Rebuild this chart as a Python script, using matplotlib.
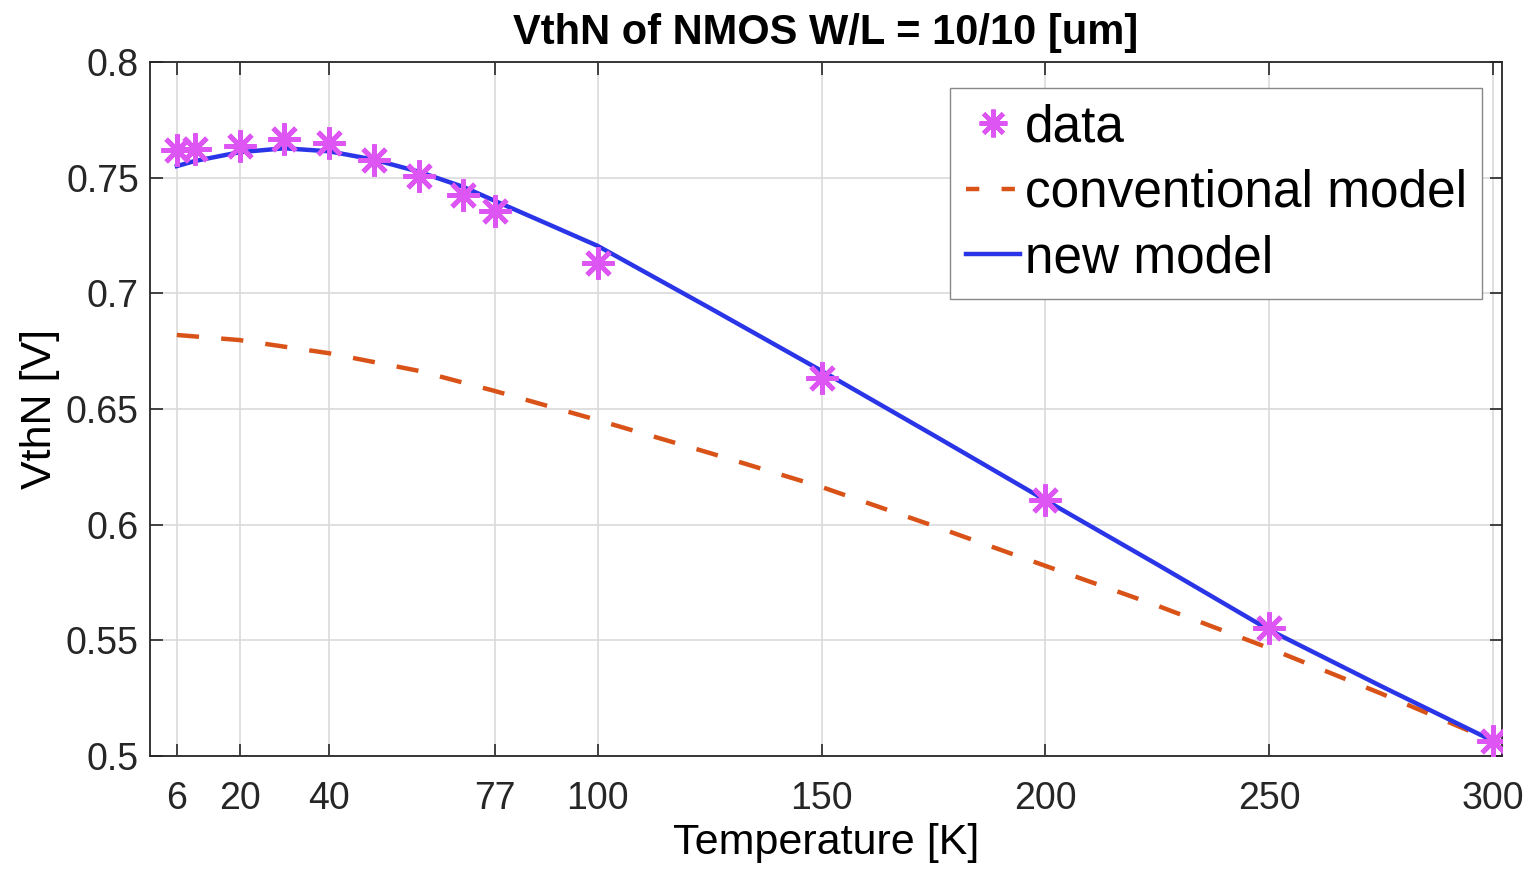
import matplotlib
matplotlib.use("Agg")
import matplotlib.pyplot as plt
from matplotlib.lines import Line2D

plt.rcParams['font.family'] = ['Liberation Sans', 'DejaVu Sans']

# measured data
data_T = [6, 10, 20, 30, 40, 50, 60, 70, 77, 100, 150, 200, 250, 300]
data_V = [0.7620, 0.7622, 0.7637, 0.7667, 0.7650, 0.7576, 0.7507, 0.7425,
          0.7356, 0.7131, 0.6636, 0.6105, 0.5553, 0.5063]

# new model curve
new_T = [6, 10, 20, 30, 40, 50, 60, 70, 77, 90, 100, 125, 150, 175, 200, 225, 250, 275, 300]
new_V = [0.7550, 0.7572, 0.7610, 0.7627, 0.7614, 0.7578, 0.7526, 0.7460, 0.7400,
         0.7290, 0.7205, 0.6937, 0.6665, 0.6387, 0.6106, 0.5828, 0.5545, 0.5302, 0.5065]

# conventional model curve
conv_T = [6, 20, 40, 60, 77, 100, 125, 150, 175, 200, 225, 250, 275, 300]
conv_V = [0.6820, 0.6798, 0.6741, 0.6665, 0.6578, 0.6452, 0.6310, 0.6163, 0.5995,
          0.5822, 0.5650, 0.5466, 0.5270, 0.5065]

xticks = [6, 20, 40, 77, 100, 150, 200, 250, 300]
yticks = [0.5, 0.55, 0.6, 0.65, 0.7, 0.75, 0.8]
ytick_labels = ['0.5', '0.55', '0.6', '0.65', '0.7', '0.75', '0.8']

fig = plt.figure(figsize=(15.3, 8.69), dpi=100)
ax = fig.add_axes([150/1530, 1-756/869, (1502-150)/1530, (756-62)/869])

c_data = '#DD55F2'
c_conv = '#D95319'
c_new = '#2A35E8'
ast = (8, 2, 0)

ax.plot(conv_T, conv_V, '--', color=c_conv, lw=3.2, dashes=(5, 5), zorder=3)
ax.plot(new_T, new_V, '-', color=c_new, lw=3.2, zorder=4)
ax.plot(data_T, data_V, linestyle='none', marker=ast, markersize=23, markeredgewidth=3.5,
        color=c_data, zorder=5)

ax.set_xlim(0, 302)
ax.set_ylim(0.5, 0.8)
ax.set_xticks(xticks)
ax.set_xticklabels([str(t) for t in xticks])
ax.set_yticks(yticks)
ax.set_yticklabels(ytick_labels)
ax.grid(True, color='#DADADA', lw=1.2)
ax.set_axisbelow(True)
ax.tick_params(direction='in', length=9, width=1.2, labelsize=27, top=True, right=True,
               colors='#262626')
ax.tick_params(axis='x', pad=18)
ax.tick_params(axis='y', pad=8)
for s in ax.spines.values():
    s.set_linewidth(1.3)
    s.set_color('#262626')

ax.set_title('VthN of NMOS W/L = 10/10 [um]', fontsize=30, fontweight='bold', pad=13)
ax.set_xlabel('Temperature [K]', fontsize=31, labelpad=4)
ax.set_ylabel('VthN [V]', fontsize=31, labelpad=4)

handles = [
    Line2D([], [], linestyle='none', marker=ast, markersize=20, markeredgewidth=3.2, color=c_data),
    Line2D([], [], linestyle='--', color=c_conv, lw=3.2, dashes=(3, 5)),
    Line2D([], [], linestyle='-', color=c_new, lw=3.2),
]
leg = ax.legend(handles, ['data', 'conventional model', 'new model'],
                loc='upper right', bbox_to_anchor=(0.9855, 0.9625), fontsize=37,
                frameon=True, fancybox=False, edgecolor='#888888', framealpha=1,
                handlelength=1.05, handletextpad=0.1, borderpad=0.3, labelspacing=0.32,
                borderaxespad=0)
leg.get_frame().set_linewidth(1.0)

fig.savefig('out.png', dpi=100)
